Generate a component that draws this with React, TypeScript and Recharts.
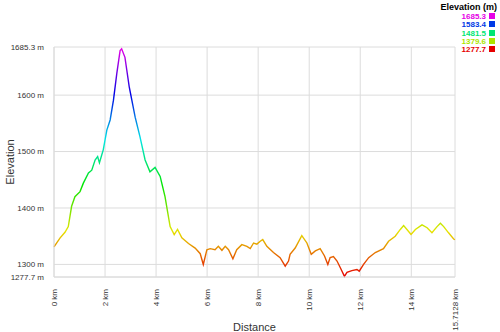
import React from 'react';
import { LineChart, Line, XAxis, YAxis, CartesianGrid } from 'recharts';

// distance along the track (km) and elevation (m)
const distanceKm = [
  0, 0.24, 0.43, 0.56, 0.69, 0.82, 1.02, 1.15, 1.35, 1.48, 1.61, 1.71, 1.78, 1.87, 1.93,
  2.07, 2.2, 2.33, 2.46, 2.59, 2.65, 2.78, 2.95, 3.18, 3.37, 3.57, 3.76, 3.96, 4.16, 4.35,
  4.55, 4.71, 4.84, 5.01, 5.27, 5.53, 5.73, 5.85, 5.99, 6.12, 6.31, 6.44, 6.58, 6.71, 6.84,
  7.01, 7.16, 7.36, 7.56, 7.69, 7.82, 7.95, 8.08, 8.18, 8.34, 8.6, 8.86, 9.06, 9.19, 9.25,
  9.45, 9.71, 9.91, 10.08, 10.24, 10.43, 10.6, 10.73, 10.82, 10.95, 11.09, 11.22, 11.38,
  11.48, 11.67, 11.87, 11.96, 12.13, 12.33, 12.59, 12.91, 13.11, 13.37, 13.57, 13.7, 13.83,
  13.99, 14.16, 14.42, 14.62, 14.81, 15.01, 15.14, 15.27, 15.46, 15.66, 15.7128,
];
const elevationM = [
  1331, 1347, 1357, 1367, 1403, 1420, 1429, 1444, 1462, 1467, 1485, 1491, 1480, 1494, 1503,
  1538, 1556, 1591, 1638, 1679, 1682, 1667, 1614, 1561, 1526, 1485, 1464, 1472, 1456, 1420,
  1367, 1353, 1362, 1347, 1337, 1329, 1319, 1300, 1326, 1328, 1326, 1332, 1325, 1332, 1326,
  1310, 1326, 1335, 1332, 1328, 1338, 1336, 1341, 1344, 1332, 1321, 1312, 1297, 1306, 1318,
  1329, 1351, 1338, 1318, 1324, 1328, 1315, 1300, 1312, 1314, 1306, 1294, 1279,
  1286, 1289, 1291, 1288, 1300, 1312, 1321, 1328, 1341, 1350, 1362, 1369, 1362,
  1353, 1362, 1370, 1365, 1356, 1367, 1373, 1367, 1356, 1345, 1344,
];

const xTicks = [0, 2, 4, 6, 8, 10, 12, 14, 15.7128];
const yTicks = [1277.7, 1300, 1400, 1500, 1600, 1685.3];
const legendValues = ['1685.3', '1583.4', '1481.5', '1379.6', '1277.7'];
const legendHues = [300, 225, 150, 75, 0];

const data = distanceKm.map((d, i) => ({ d, e: elevationM[i] }));

const FONT = '"Liberation Sans", Arial, sans-serif';
const hueColor = (h: number) => `hsl(${h}, 100%, 45%)`;

const XTick = ({ x, y, payload }: any) => (
  <g transform={`translate(${x},${y + 4})`}>
    <text transform="rotate(-90)" textAnchor="end" dy="0.35em" fontSize={8} fill="#333" fontFamily={FONT}>
      {`${payload.value} km`}
    </text>
  </g>
);

const YTick = ({ x, y, payload }: any) => (
  <text x={x - 2} y={y} dy="0.35em" textAnchor="end" fontSize={8} fill="#333" fontFamily={FONT}>
    {`${payload.value} m`}
  </text>
);

const ElevLegend = () => (
  <div
    style={{
      position: 'absolute',
      top: 2,
      right: 3,
      fontFamily: FONT,
      textAlign: 'right',
      lineHeight: '8.3px',
      zIndex: 2,
    }}
  >
    <div style={{ fontWeight: 'bold', fontSize: 9, lineHeight: '10px', marginBottom: 1 }}>Elevation (m)</div>
    {legendValues.map((v, i) => (
      <div key={v} style={{ fontSize: 8, fontWeight: 'bold', color: hueColor(legendHues[i]) }}>
        {v}
        <span
          style={{
            display: 'inline-block',
            width: 6,
            height: 6,
            marginLeft: 3,
            marginRight: 2,
            background: hueColor(legendHues[i]),
          }}
        />
      </div>
    ))}
  </div>
);

export default function App() {
  return (
    <div style={{ position: 'absolute', left: 0, top: 0, width: 500, height: 332, background: '#fff' }}>
      <ElevLegend />
      <LineChart width={500} height={332} data={data} margin={{ top: 47, right: 45, bottom: 0, left: 0 }}>
        <defs>
          <linearGradient id="elevGrad" x1="0" y1="0" x2="0" y2="1">
            <stop offset="0" stopColor={hueColor(300)} />
            <stop offset="0.2" stopColor={hueColor(240)} />
            <stop offset="0.4" stopColor={hueColor(180)} />
            <stop offset="0.6" stopColor={hueColor(120)} />
            <stop offset="0.8" stopColor={hueColor(60)} />
            <stop offset="1" stopColor={hueColor(0)} />
          </linearGradient>
        </defs>
        <CartesianGrid stroke="#dcdcdc" />
        <XAxis
          dataKey="d"
          type="number"
          domain={[0, 15.7128]}
          ticks={xTicks}
          interval={0}
          height={55}
          tick={<XTick />}
          tickLine={false}
          axisLine={{ stroke: '#dcdcdc' }}
          label={{ value: 'Distance', position: 'insideBottom', offset: 1, fontSize: 11, fill: '#333', fontFamily: FONT }}
        />
        <YAxis
          type="number"
          domain={[1277.7, 1685.3]}
          ticks={yTicks}
          interval={0}
          width={54}
          tick={<YTick />}
          tickLine={false}
          axisLine={{ stroke: '#dcdcdc' }}
          label={{ value: 'Elevation', angle: -90, position: 'insideLeft', offset: 10, fontSize: 11, fill: '#333', fontFamily: FONT, style: { textAnchor: 'middle' } }}
        />
        <Line
          type="linear"
          dataKey="e"
          stroke="url(#elevGrad)"
          strokeWidth={1.4}
          dot={false}
          isAnimationActive={false}
        />
      </LineChart>
    </div>
  );
}
